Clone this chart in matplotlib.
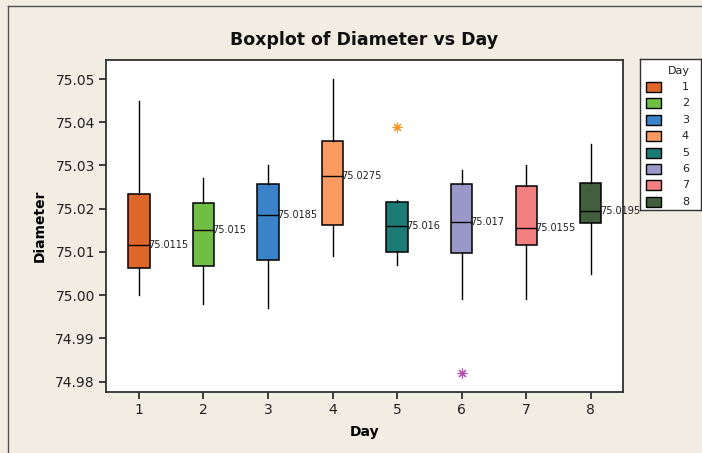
import matplotlib
matplotlib.use("Agg")
import matplotlib.pyplot as plt
from matplotlib.patches import Rectangle
from matplotlib.lines import Line2D

# ---- data ----
days = [1, 2, 3, 4, 5, 6, 7, 8]
whisker_low = [75.000, 74.998, 74.997, 75.009, 75.007, 74.999, 74.999, 75.005]
q1 = [75.0063, 75.0068, 75.0082, 75.0162, 75.0100, 75.0098, 75.0116, 75.0167]
medians = [75.0115, 75.015, 75.0185, 75.0275, 75.016, 75.017, 75.0155, 75.0195]
q3 = [75.0234, 75.0213, 75.0256, 75.0357, 75.0216, 75.0256, 75.0253, 75.0259]
whisker_high = [75.045, 75.027, 75.030, 75.050, 75.022, 75.029, 75.030, 75.035]
box_colors = ["#E0672A", "#70BF44", "#3C82C8", "#F89A62",
              "#1C7B74", "#9A98C9", "#F28080", "#415F3C"]
outlier_days = [5, 6]
outlier_values = [75.039, 74.982]
outlier_colors = ["#F7941D", "#B548B5"]
y_ticks = [74.98, 74.99, 75.00, 75.01, 75.02, 75.03, 75.04, 75.05]

BG = "#F1EDE3"
fig = plt.figure(figsize=(7.02, 4.53), dpi=100, facecolor=BG)
ax = fig.add_axes([106/702, 1-392/453, (623-106)/702, (392-60)/453])
ax.set_facecolor("white")

stats = []
for i in range(len(days)):
    stats.append(dict(whislo=whisker_low[i], q1=q1[i], med=medians[i],
                      q3=q3[i], whishi=whisker_high[i], fliers=[]))

bp = ax.bxp(stats, positions=days, widths=0.33, patch_artist=True,
            showcaps=False, showfliers=False,
            boxprops=dict(edgecolor="black", linewidth=1.1),
            medianprops=dict(color="black", linewidth=1.0),
            whiskerprops=dict(color="black", linewidth=1.0))
for patch, c in zip(bp["boxes"], box_colors):
    patch.set_facecolor(c)

for d, m in zip(days, medians):
    ax.text(d + 0.14, m, format(m, "g"), fontsize=7, ha="left",
            va="center", color="#202020", zorder=5)

for d, v, c in zip(outlier_days, outlier_values, outlier_colors):
    ax.plot([d], [v], linestyle="none", marker=(8, 2, 0), markersize=7,
            markeredgecolor=c, markeredgewidth=0.8, zorder=6)

ax.set_xlim(0.49, 8.5)
ax.set_ylim(74.9776, 75.0544)
ax.set_xticks(days)
ax.set_xticklabels([str(d) for d in days])
ax.set_yticks(y_ticks)
ax.set_yticklabels([f"{t:.2f}" for t in y_ticks])
ax.tick_params(axis="both", direction="out", length=5, width=1.2,
               labelsize=10, colors="#202020", pad=3)
for s in ax.spines.values():
    s.set_linewidth(1.3)
    s.set_color("#303030")

ax.set_xlabel("Day", fontsize=10, fontweight="bold", labelpad=6)
ax.set_ylabel("Diameter", fontsize=10, fontweight="bold", labelpad=6)
fig.text(364/702, 1-40/453, "Boxplot of Diameter vs Day", fontsize=12.5,
         fontweight="bold", ha="center", va="center", color="#101010")

# ---- legend ----
lax = fig.add_axes([640/702, 1-210/453, 61/702, (210-59)/453])
lax.set_facecolor("white")
lax.set_xlim(0, 61)
lax.set_ylim(151, 0)
lax.set_xticks([])
lax.set_yticks([])
for s in lax.spines.values():
    s.set_linewidth(1.0)
    s.set_color("#303030")
lax.text(50, 11.5, "Day", fontsize=8, ha="right", va="center", color="#202020")
for i, (d, c) in enumerate(zip(days, box_colors)):
    yc = 28 + i * 16.4
    lax.add_patch(Rectangle((6, yc - 5), 14.5, 10, facecolor=c,
                            edgecolor="black", linewidth=1.0))
    lax.text(49, yc, str(d), fontsize=8, ha="right", va="center",
             color="#202020")

# ---- figure border (top and left) ----
fig.add_artist(Line2D([8/702, 8/702], [0, 1-6/453], transform=fig.transFigure,
                      color="#505050", linewidth=1.0))
fig.add_artist(Line2D([8/702, 1], [1-6/453, 1-6/453], transform=fig.transFigure,
                      color="#505050", linewidth=1.0))

fig.savefig("out.png", dpi=100, facecolor=BG)
